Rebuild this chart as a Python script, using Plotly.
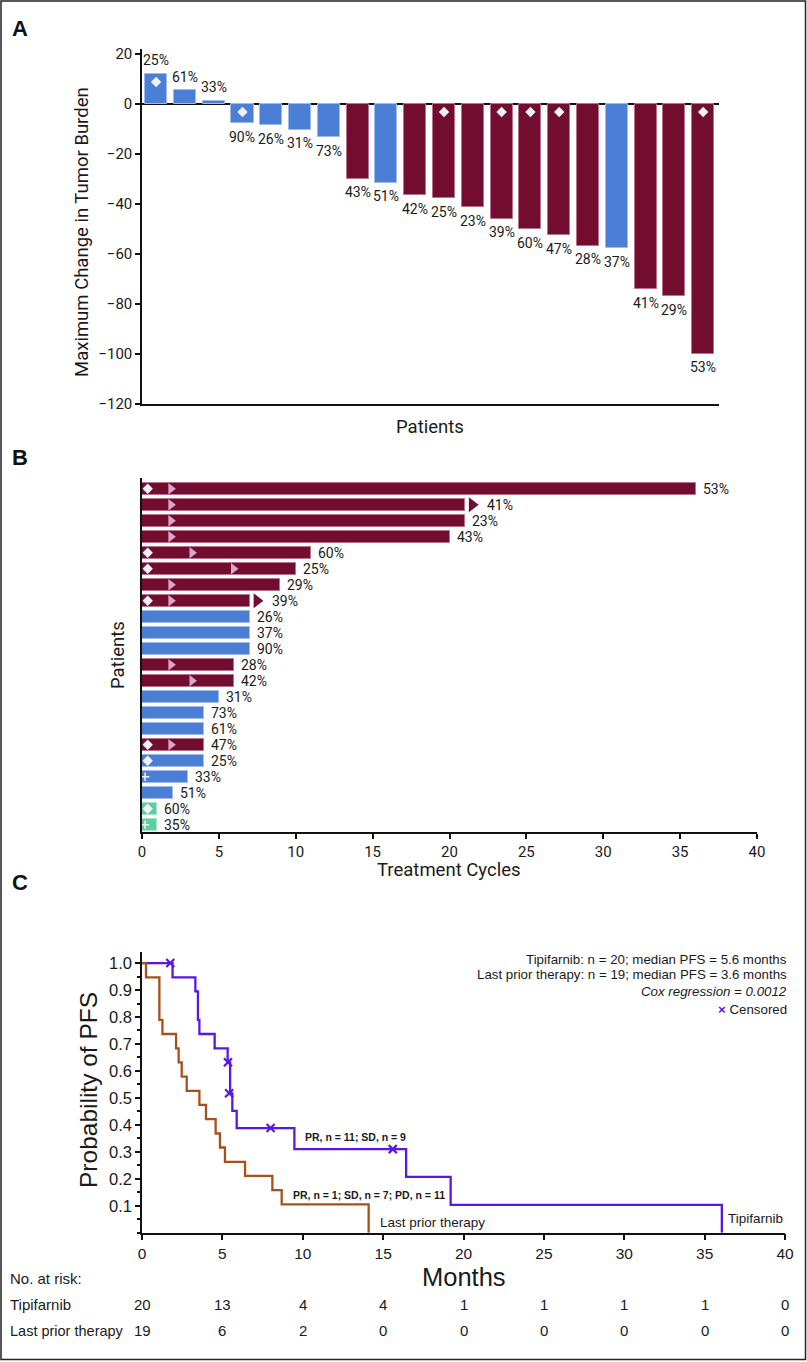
import plotly.graph_objects as go

W, H = 807, 1362

# ---------------- Panel A data ----------------
a_labels = ["25%", "61%", "33%", "90%", "26%", "31%", "73%", "43%", "51%", "42%",
            "25%", "23%", "39%", "60%", "47%", "28%", "37%", "41%", "29%", "53%"]
a_values = [12, 5.5, 1.2, -7.7, -8.5, -10.3, -13.3, -30, -31.6, -36.5,
            -37.7, -41.3, -46, -50.1, -52.5, -56.7, -57.7, -74.1, -76.9, -100]
a_group = ["SD", "SD", "SD", "SD", "SD", "SD", "SD", "PR", "SD", "PR",
           "PR", "PR", "PR", "PR", "PR", "PR", "SD", "PR", "PR", "PR"]
a_diamond = [1, 0, 0, 1, 0, 0, 0, 0, 0, 0, 1, 0, 1, 1, 1, 0, 0, 0, 0, 1]
a_yticks = [-120, -100, -80, -60, -40, -20, 0, 20]

# ---------------- Panel B data ----------------
b_labels = ["53%", "41%", "23%", "43%", "60%", "25%", "29%", "39%", "26%", "37%", "90%",
            "28%", "42%", "31%", "73%", "61%", "47%", "25%", "33%", "51%", "60%", "35%"]
b_cycles = [36, 21, 21, 20, 11, 10, 9, 7, 7, 7, 7, 6, 6, 5, 4, 4, 4, 4, 3, 2, 1, 1]
b_group = ["PR", "PR", "PR", "PR", "PR", "PR", "PR", "PR", "SD", "SD", "SD",
           "PR", "PR", "SD", "SD", "SD", "PR", "SD", "SD", "SD", "PD", "PD"]
b_diamond_rows = [0, 4, 5, 7, 16, 17, 20]
b_plus_rows = [18, 21]
b_response_rows = [0, 1, 2, 3, 4, 5, 6, 7, 11, 12, 16]
b_response_cycle = [1.88, 1.88, 1.88, 1.88, 3.25, 5.95, 1.88, 1.88, 1.88, 3.25, 1.88]
b_ongoing_rows = [1, 7]
b_xticks = [0, 5, 10, 15, 20, 25, 30, 35, 40]

# ---------------- Panel C data ----------------
tip_t = [0, 1.9, 3.32, 3.48, 3.57, 4.52, 5.33, 5.48, 5.62, 5.89, 9.48, 16.43, 19.2, 36.07]
tip_s = [1.0, 0.947, 0.895, 0.789, 0.737, 0.684, 0.632, 0.517, 0.452, 0.388, 0.310, 0.207, 0.103, 0.0]
tip_cens_t = [1.76, 5.35, 5.42, 8.0, 15.6]
tip_cens_s = [1.0, 0.632, 0.517, 0.388, 0.310]
pri_t = [0, 0.25, 1.08, 1.27, 2.12, 2.28, 2.47, 2.78, 3.57, 3.98, 4.58, 4.85, 5.16, 6.41, 8.11, 8.69, 14.1]
pri_s = [1.0, 0.947, 0.789, 0.737, 0.684, 0.632, 0.579, 0.526, 0.474, 0.421, 0.368, 0.316, 0.263,
         0.211, 0.158, 0.105, 0.0]
c_xticks = [0, 5, 10, 15, 20, 25, 30, 35, 40]
c_yticks = [0.1, 0.2, 0.3, 0.4, 0.5, 0.6, 0.7, 0.8, 0.9, 1.0]
risk_months = [0, 5, 10, 15, 20, 25, 30, 35, 40]
risk_tip = [20, 13, 4, 4, 1, 1, 1, 1, 0]
risk_pri = [19, 6, 2, 0, 0, 0, 0, 0, 0]

# ---------------- styles ----------------
RED = "#730d30"
BLUE = "#4a7fd5"
GREEN = "#5ccf9e"
COL = {"PR": RED, "SD": BLUE, "PD": GREEN}
EDGE = {"PR": "#b9738c", "SD": "#9dbbef", "PD": "#a6e6c9"}
PINK = "#d9a6c9"
WHITEISH = "#eef3fa"
PURPLE = "#5a17e3"
BROWN = "#a8501c"
TXT = "#1a1a1a"
FA = "Roboto, Arial, sans-serif"
FC = "Liberation Sans, Arial, sans-serif"
FN = "Liberation Sans, Arial, sans-serif"


def fx(p):
    return p / W


def fy(p):
    return 1 - p / H


fig = go.Figure()

# ---- Panel A ----
ax = list(range(len(a_values)))
fig.add_trace(go.Bar(
    x=ax, y=a_values, width=0.765,
    marker=dict(color=[COL[g] for g in a_group],
                line=dict(color=[EDGE[g] for g in a_group], width=1)),
    xaxis="x", yaxis="y", showlegend=False, hoverinfo="skip"))
dx = [i for i, d in zip(ax, a_diamond) if d]
dy = [max(a_values[i], 0) - 3.2 for i in dx]
fig.add_trace(go.Scatter(
    x=dx, y=dy, mode="markers",
    marker=dict(symbol="diamond", size=8, color=WHITEISH),
    xaxis="x", yaxis="y", showlegend=False, hoverinfo="skip"))

annotations = []
for i, (v, lab) in enumerate(zip(a_values, a_labels)):
    annotations.append(dict(x=i, y=v, xref="x", yref="y", text=lab, showarrow=False,
                            yshift=13.5 if v > 0 else -13.5,
                            font=dict(family=FA, size=14, color=TXT)))

# ---- Panel B ----
by = list(range(len(b_cycles)))
fig.add_trace(go.Bar(
    x=b_cycles, y=by, orientation="h", width=0.78,
    marker=dict(color=[COL[g] for g in b_group],
                line=dict(color=[EDGE[g] for g in b_group], width=1)),
    xaxis="x2", yaxis="y2", showlegend=False, hoverinfo="skip"))
fig.add_trace(go.Scatter(
    x=b_response_cycle, y=b_response_rows, mode="markers",
    marker=dict(symbol="triangle-right", size=10, color=PINK),
    xaxis="x2", yaxis="y2", showlegend=False, hoverinfo="skip"))
fig.add_trace(go.Scatter(
    x=[0.37] * len(b_diamond_rows), y=b_diamond_rows, mode="markers",
    marker=dict(symbol="diamond", size=8, color=WHITEISH),
    xaxis="x2", yaxis="y2", showlegend=False, hoverinfo="skip"))
fig.add_trace(go.Scatter(
    x=[0.2] * len(b_plus_rows), y=b_plus_rows, mode="markers",
    marker=dict(symbol="cross-thin", size=6, line=dict(color=WHITEISH, width=1.5)),
    xaxis="x2", yaxis="y2", showlegend=False, hoverinfo="skip"))
fig.add_trace(go.Scatter(
    x=[b_cycles[r] + 0.47 for r in b_ongoing_rows], y=b_ongoing_rows, mode="markers",
    marker=dict(symbol="triangle-right", size=13, color=RED),
    xaxis="x2", yaxis="y2", showlegend=False, hoverinfo="skip"))
for r, (v, lab) in enumerate(zip(b_cycles, b_labels)):
    annotations.append(dict(x=v, y=r, xref="x2", yref="y2", text=lab, showarrow=False,
                            xanchor="left", xshift=20 if r in b_ongoing_rows else 5,
                            font=dict(family=FA, size=14, color=TXT)))

# ---- Panel C ----
fig.add_trace(go.Scatter(
    x=tip_t, y=tip_s, mode="lines", line=dict(color=PURPLE, width=2.3, shape="hv"),
    xaxis="x3", yaxis="y3", showlegend=False, hoverinfo="skip"))
fig.add_trace(go.Scatter(
    x=pri_t, y=pri_s, mode="lines", line=dict(color=BROWN, width=2.3, shape="hv"),
    xaxis="x3", yaxis="y3", showlegend=False, hoverinfo="skip"))
fig.add_trace(go.Scatter(
    x=tip_cens_t, y=tip_cens_s, mode="markers",
    marker=dict(symbol="x-thin", size=8, line=dict(color=PURPLE, width=2.2)),
    xaxis="x3", yaxis="y3", showlegend=False, hoverinfo="skip"))

# panel C text
legend_lines = [
    ("Tipifarnib: n = 20; median PFS = 5.6 months", 959),
    ("Last prior therapy: n = 19; median PFS = 3.6 months", 974.5),
    ("<i>Cox regression = 0.0012</i>", 991.5),
    ("<span style='color:%s'><b>×</b></span> Censored" % PURPLE, 1009),
]
for txt, yy in legend_lines:
    annotations.append(dict(x=fx(789), y=fy(yy), xref="paper", yref="paper", text=txt,
                            showarrow=False, xanchor="right", yanchor="middle",
                            font=dict(family=FC, size=13.3, color=TXT)))
annotations.append(dict(x=10.0, y=0.356, xref="x3", yref="y3", text="<b>PR, n = 11; SD, n = 9</b>",
                        showarrow=False, xanchor="left", font=dict(family=FC, size=10.5, color=TXT)))
annotations.append(dict(x=9.29, y=0.141, xref="x3", yref="y3",
                        text="<b>PR, n = 1; SD, n = 7; PD, n = 11</b>",
                        showarrow=False, xanchor="left", font=dict(family=FC, size=10.5, color=TXT)))
annotations.append(dict(x=14.67, y=0.037, xref="x3", yref="y3", text="Last prior therapy",
                        showarrow=False, xanchor="left", font=dict(family=FC, size=13.5, color=TXT)))
annotations.append(dict(x=40, y=0.053, xref="x3", yref="y3", text="Tipifarnib",
                        showarrow=False, xanchor="right", font=dict(family=FC, size=13.5, color=TXT)))

# at-risk table
TS = 15
annotations.append(dict(x=fx(8), y=fy(1289), xref="paper", yref="paper", text="No. at risk:",
                        showarrow=False, xanchor="left", font=dict(family=FN, size=TS, color=TXT)))
annotations.append(dict(x=fx(8), y=fy(1315), xref="paper", yref="paper", text="Tipifarnib",
                        showarrow=False, xanchor="left", font=dict(family=FN, size=TS, color=TXT)))
annotations.append(dict(x=fx(8), y=fy(1341), xref="paper", yref="paper", text="Last prior therapy",
                        showarrow=False, xanchor="left", font=dict(family=FN, size=14.5, color=TXT)))
for m, a, b in zip(risk_months, risk_tip, risk_pri):
    annotations.append(dict(x=m, y=fy(1315), xref="x3", yref="paper", text=str(a),
                            showarrow=False, font=dict(family=FN, size=TS, color=TXT)))
    annotations.append(dict(x=m, y=fy(1341), xref="x3", yref="paper", text=str(b),
                            showarrow=False, font=dict(family=FN, size=TS, color=TXT)))

# axis titles
titles = [
    ("Maximum Change in Tumor Burden", 82, 232, -90, FA, 18.5),
    ("Patients", 430, 427, 0, FA, 18.5),
    ("Patients", 118, 655, -90, FA, 18.5),
    ("Treatment Cycles", 449, 870, 0, FA, 18.5),
    ("Probability of PFS", 88, 1090, -90, FC, 24.5),
    ("Months", 464, 1277, 0, FN, 25.5),
]
for txt, x, y, ang, fam, sz in titles:
    annotations.append(dict(x=fx(x), y=fy(y), xref="paper", yref="paper", text=txt,
                            showarrow=False, textangle=ang, xanchor="center", yanchor="middle",
                            font=dict(family=fam, size=sz, color=TXT)))
for lab, y in [("A", 28), ("B", 457), ("C", 882)]:
    annotations.append(dict(x=fx(20), y=fy(y), xref="paper", yref="paper", text="<b>%s</b>" % lab,
                            showarrow=False, xanchor="center", yanchor="middle",
                            font=dict(family="Liberation Sans, Arial, sans-serif", size=22, color="#111")))

axis_common = dict(showline=True, linecolor="#111", linewidth=1.5, showgrid=False, zeroline=False,
                   tickcolor="#111", tickwidth=1.5, fixedrange=True, automargin=False)

fig.update_layout(
    width=W, height=H, autosize=False,
    margin=dict(l=0, r=0, t=0, b=0, pad=0),
    paper_bgcolor="white", plot_bgcolor="white",
    showlegend=False,
    bargap=0,
    annotations=annotations,
    shapes=[dict(type="rect", xref="paper", yref="paper", x0=fx(1), x1=fx(805.5),
                 y0=fy(1359.5), y1=fy(1), line=dict(color="#222", width=1.5))],
    xaxis=dict(domain=[fx(142), fx(719)], range=[-0.49, 19.55], anchor="y",
               showticklabels=False, ticks="", **axis_common),
    yaxis=dict(domain=[fy(404), fy(49)], range=[-120, 22], anchor="x",
               tickvals=a_yticks, ticks="outside", ticklen=5,
               tickfont=dict(family=FA, size=15, color=TXT),
               **{**axis_common, "zeroline": True}, zerolinecolor="#111", zerolinewidth=1.5),
    xaxis2=dict(domain=[fx(142), fx(757)], range=[0, 40], anchor="y2",
                tickvals=b_xticks, ticks="outside", ticklen=5,
                tickfont=dict(family=FA, size=15, color=TXT), **axis_common),
    yaxis2=dict(domain=[fy(832), fy(478)], range=[21.45, -0.675], anchor="x2",
                showticklabels=False, ticks="", **axis_common),
    xaxis3=dict(domain=[fx(142), fx(785)], range=[0, 40], anchor="y3",
                tickvals=c_xticks, ticks="outside", ticklen=6,
                tickfont=dict(family=FN, size=15.5, color=TXT), **axis_common),
    yaxis3=dict(domain=[fy(1232.7), fy(952.3)], range=[0, 1.04], anchor="x3",
                tickvals=c_yticks, ticktext=["%.1f" % v for v in c_yticks],
                ticks="outside", ticklen=5,
                minor=dict(ticks="outside", ticklen=3, dtick=0.05, tick0=0, tickcolor="#111"),
                tickfont=dict(family=FC, size=16.5, color=TXT), **axis_common),
)

fig.write_html(
    "out.html",
    config={"displayModeBar": False, "responsive": False},
    post_script=("document.documentElement.style.overflow='hidden';"
                 "document.body.style.margin='0';document.body.style.padding='0';"
                 "document.body.style.overflow='hidden';document.body.style.height='1362px';"),
)
